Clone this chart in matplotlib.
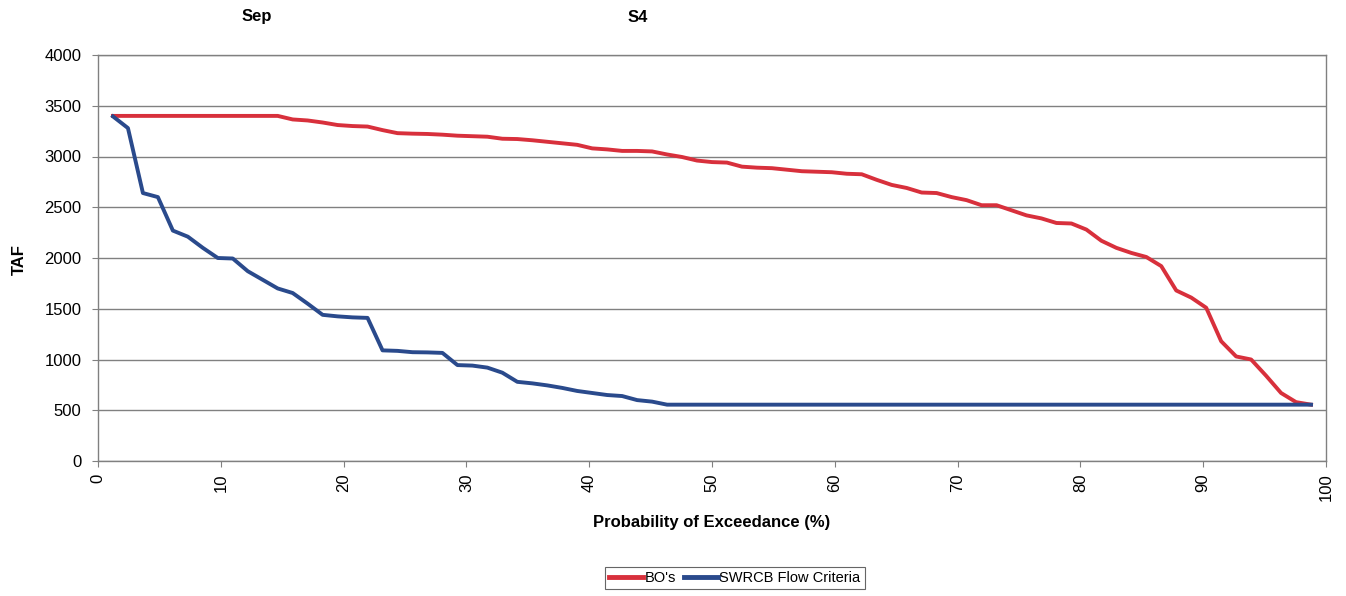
import numpy as np
import matplotlib
matplotlib.use("Agg")
import matplotlib.pyplot as plt

plt.rcParams['font.family'] = ['Liberation Sans', 'DejaVu Sans']

n_years = 81
prob = [i / (n_years + 1) * 100 for i in range(1, n_years + 1)]

bos = [3400, 3400, 3400, 3400, 3400, 3400, 3400, 3400, 3400, 3400,
       3400, 3400, 3365, 3355, 3335, 3310, 3300, 3295, 3260, 3230,
       3225, 3222, 3215, 3205, 3200, 3195, 3175, 3172, 3160, 3145,
       3130, 3115, 3080, 3070, 3055, 3055, 3050, 3020, 2995, 2960,
       2945, 2940, 2900, 2890, 2885, 2870, 2855, 2850, 2845, 2830,
       2825, 2770, 2720, 2690, 2645, 2640, 2600, 2570, 2520, 2520,
       2470, 2420, 2390, 2345, 2340, 2280, 2170, 2100, 2050, 2010,
       1920, 1680, 1610, 1510, 1180, 1030, 1000, 840, 670, 580,
       555]

swrcb = [3395, 3280, 2640, 2600, 2270, 2210, 2100, 2000, 1995, 1870,
         1785, 1700, 1655, 1550, 1440, 1425, 1415, 1410, 1090, 1085,
         1072, 1070, 1065, 945, 940, 920, 870, 780, 765, 745,
         720, 690, 670, 650, 640, 600, 585, 555] + [555] * 43

titles = ["Sep", "S4"]
series_names = ["BO's", "SWRCB Flow Criteria"]
colors = ["#d8303c", "#2a4a8c"]

W, H = 1346, 596
fig = plt.figure(figsize=(W / 100, H / 100), dpi=100)
ax = fig.add_axes([98 / W, 1 - 461 / H, (1326 - 98) / W, (461 - 55) / H])

ax.plot(prob, bos, color=colors[0], lw=2.8, label=series_names[0], solid_joinstyle='round')
ax.plot(prob, swrcb, color=colors[1], lw=2.8, label=series_names[1], solid_joinstyle='round')

ax.set_xlim(0, 100)
ax.set_ylim(0, 4000)
ax.set_xticks(np.arange(0, 101, 10))
ax.set_yticks(np.arange(0, 4001, 500))
ax.yaxis.grid(True, color="#808080", lw=1.0)
ax.set_axisbelow(True)
for s in ax.spines.values():
    s.set_color("#808080")
    s.set_linewidth(1.0)
ax.tick_params(axis='x', direction='out', length=4, color="#808080", labelsize=12, labelrotation=90, pad=5)
ax.tick_params(axis='y', direction='out', length=4, color="#808080", labelsize=12, pad=8)

ax.set_xlabel("Probability of Exceedance (%)", fontsize=12, fontweight='bold', va='center')
ax.set_ylabel("TAF", fontsize=12, fontweight='bold', va='center')
ax.xaxis.set_label_coords((712 - 98) / 1228, (461 - 523) / 406)
ax.yaxis.set_label_coords((19 - 98) / 1228, (461 - 260) / 406)

fig.text(257 / W, 1 - 17 / H, titles[0], fontsize=12, fontweight='bold', ha='center', va='center')
fig.text(638 / W, 1 - 17 / H, titles[1], fontsize=12, fontweight='bold', ha='center', va='center')

leg = fig.legend(loc='center', bbox_to_anchor=(735 / W, 1 - 578 / H), ncol=2, fontsize=10.5,
                 frameon=True, fancybox=False, edgecolor="#404040", handlelength=2.3,
                 handletextpad=0.1, columnspacing=0.6, borderpad=0.3, borderaxespad=0)
leg.get_frame().set_linewidth(0.8)
for line in leg.get_lines():
    line.set_linewidth(3.5)

fig.savefig("out.png", dpi=100)
